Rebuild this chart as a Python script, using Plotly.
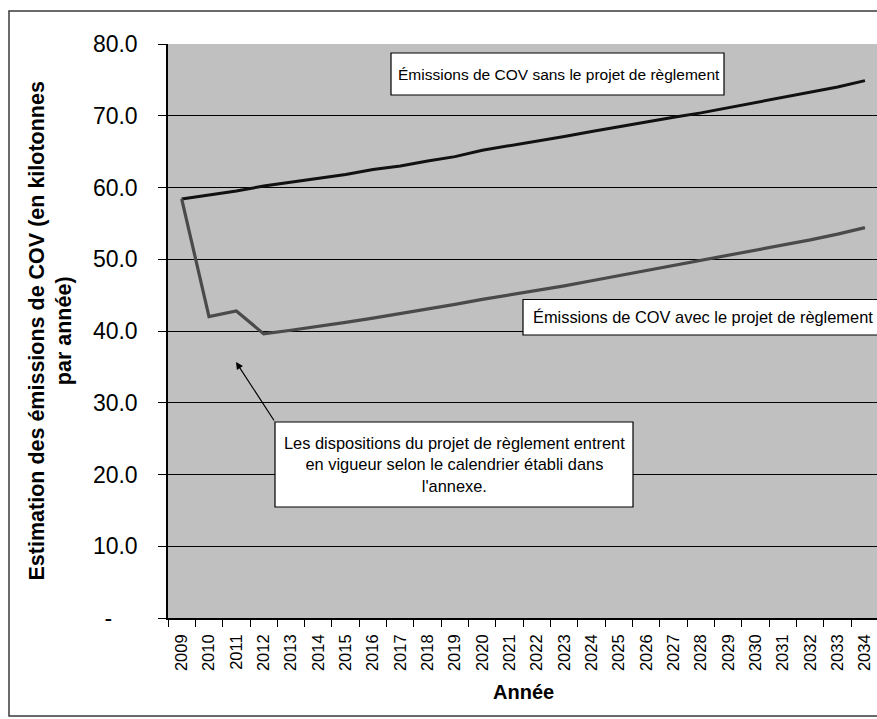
import plotly.graph_objects as go

# Years and estimated VOC emissions (kilotonnes per year)
years = [str(y) for y in range(2009, 2035)]
sans_projet = [58.4, 58.9, 59.5, 60.2, 60.7, 61.3, 61.8, 62.5, 63.0, 63.7,
               64.3, 65.2, 65.8, 66.5, 67.1, 67.8, 68.5, 69.2, 69.8, 70.4,
               71.1, 71.8, 72.5, 73.3, 74.0, 74.9]
avec_projet = [58.4, 42.0, 42.8, 39.6, 40.1, 40.6, 41.2, 41.8, 42.4, 43.0,
               43.7, 44.4, 45.0, 45.6, 46.3, 47.0, 47.7, 48.4, 49.1, 49.8,
               50.5, 51.2, 51.9, 52.7, 53.5, 54.4]
y_tickvals = [0, 10, 20, 30, 40, 50, 60, 70, 80]
y_ticktext = ["-\u00a0\u00a0\u00a0\u00a0", "10.0", "20.0", "30.0", "40.0",
              "50.0", "60.0", "70.0", "80.0"]

label_sans = "Émissions de COV sans le projet de règlement"
label_avec = "Émissions de COV avec le projet de règlement"
label_note = ("Les dispositions du projet de règlement entrent<br>"
              "en vigueur selon le calendrier établi dans<br>l'annexe.")
y_title = "Estimation des émissions de COV (en kilotonnes<br>par année)"
x_title = "Année"

W, H = 877, 719
ML, MR, MT, MB = 168, 0, 44, 101
PW, PH = W - ML - MR, H - MT - MB
FONT = "Liberation Sans, Arial, sans-serif"


def fx(px):
    return (px - ML) / PW


def fy(py):
    return 1 - (py - MT) / PH


fig = go.Figure()
fig.add_trace(go.Scatter(x=years, y=sans_projet, mode="lines",
                         line=dict(color="#111111", width=3),
                         showlegend=False, hoverinfo="skip"))
fig.add_trace(go.Scatter(x=years, y=avec_projet, mode="lines",
                         line=dict(color="#4a4a4a", width=3.2),
                         showlegend=False, hoverinfo="skip"))

shapes = [
    # outer chart frame
    dict(type="rect", xref="paper", yref="paper", layer="below",
         x0=fx(9), x1=fx(905), y0=fy(716), y1=fy(11),
         line=dict(color="#3a3a3a", width=1.5)),
    # label boxes
    dict(type="rect", xref="paper", yref="paper",
         x0=fx(391), x1=fx(724), y0=fy(95), y1=fy(53),
         fillcolor="white", line=dict(color="black", width=1.2)),
    dict(type="rect", xref="paper", yref="paper",
         x0=fx(523), x1=fx(900), y0=fy(335), y1=fy(299.5),
         fillcolor="white", line=dict(color="black", width=1.2)),
    dict(type="rect", xref="paper", yref="paper",
         x0=fx(275), x1=fx(633), y0=fy(507), y1=fy(422),
         fillcolor="white", line=dict(color="black", width=1.2)),
]

annotations = [
    dict(text=label_sans, xref="paper", yref="paper", x=fx(558.5), y=fy(74),
         showarrow=False, font=dict(family=FONT, size=15.5, color="black"),
         xanchor="center", yanchor="middle"),
    dict(text=label_avec, xref="paper", yref="paper", x=fx(531), y=fy(317),
         showarrow=False, font=dict(family=FONT, size=16.4, color="black"),
         xanchor="left", yanchor="middle"),
    dict(text=label_note, xref="paper", yref="paper", x=fx(454), y=fy(464),
         showarrow=False, align="center",
         font=dict(family=FONT, size=16.4, color="black"),
         xanchor="center", yanchor="middle"),
    # pointer arrow from the note box
    dict(text="", xref="paper", yref="paper", x=fx(236), y=fy(362),
         axref="pixel", ayref="pixel", ax=39, ay=60,
         showarrow=True, arrowhead=2, arrowsize=1.2, arrowwidth=1.2,
         arrowcolor="black", standoff=0, startstandoff=0),
    dict(text=y_title, xref="paper", yref="paper", x=fx(50.5), y=fy(331),
         showarrow=False, textangle=-90, align="center",
         font=dict(family=FONT, size=21.5, color="black", weight="bold"),
         xanchor="center", yanchor="middle"),
    dict(text=x_title, xref="paper", yref="paper", x=fx(523.5), y=fy(692),
         showarrow=False,
         font=dict(family=FONT, size=20, color="black", weight="bold"),
         xanchor="center", yanchor="middle"),
]

fig.update_layout(
    width=W, height=H,
    margin=dict(l=ML, r=MR, t=MT, b=MB, pad=0),
    paper_bgcolor="white",
    plot_bgcolor="#c0c0c0",
    shapes=shapes,
    annotations=annotations,
    font=dict(family=FONT, color="black"),
)

fig.update_xaxes(
    type="category", range=[-0.5, 25.44],
    tickson="boundaries", ticks="outside", ticklen=7, tickwidth=1,
    tickcolor="black", tickangle=-90,
    tickfont=dict(family=FONT, size=16.5, color="black"),
    showline=True, linecolor="black", linewidth=1.5,
    showgrid=False, zeroline=False, ticklabelstandoff=8,
)
fig.update_yaxes(
    range=[0, 80], tickvals=y_tickvals, ticktext=y_ticktext,
    ticks="outside", ticklen=8, tickwidth=1, tickcolor="black",
    tickfont=dict(family=FONT, size=23, color="black"),
    showline=True, linecolor="black", linewidth=1.5,
    showgrid=True, gridcolor="black", gridwidth=1,
    zeroline=False, ticklabelstandoff=16,
)

fig.write_html("out.html")
